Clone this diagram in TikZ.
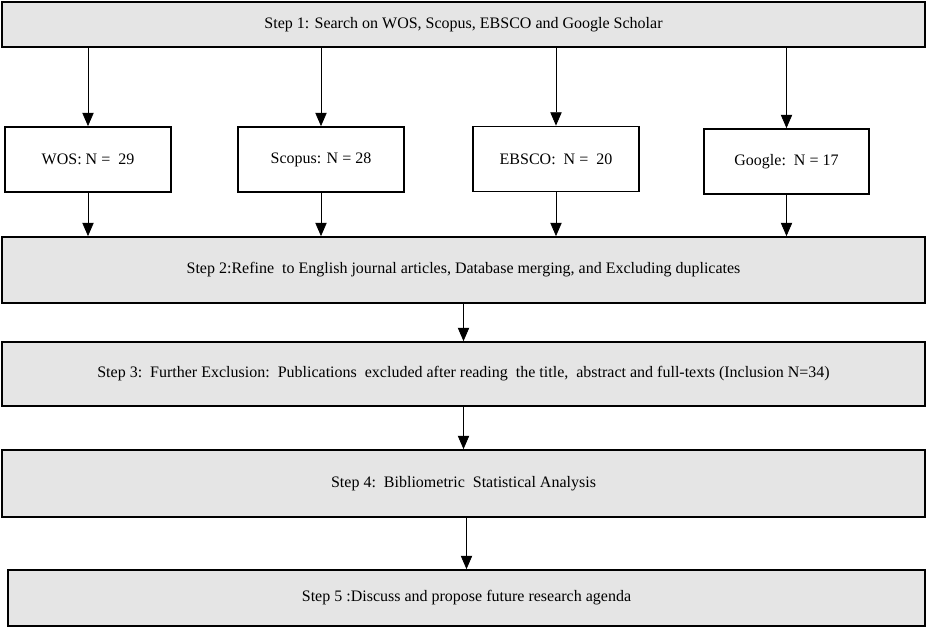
\documentclass[tikz,border=0pt]{standalone}
\usepackage{fontspec}
\setmainfont{Liberation Serif}
\usepackage{tikz}
\usetikzlibrary{arrows.meta, positioning}

\tikzset{
    stepbox/.style={draw, line width=1.3pt, fill=gray!20, minimum width=692pt, inner sep=0pt, font=\fontsize{12}{14}\selectfont},
    dbbox/.style={draw, line width=1.3pt, fill=white, minimum width=124pt, minimum height=48.75pt, inner sep=0pt, font=\fontsize{12}{14}\selectfont},
    flow/.style={-{Triangle[width=8.5pt,length=10pt]}, line width=0.6pt}
}

\begin{document}
\begin{tikzpicture}[x=0.75pt, y=-0.75pt]
                \useasboundingbox (0,0) rectangle (928,630);

                \node[stepbox, minimum height=33.75pt] (step1) at (463.5, 24.5) {Step 1: Search on WOS, Scopus, EBSCO and Google Scholar};

                \node[dbbox] (wos) at (88, 159.5) {WOS: N =\ \ 29};
                \node[dbbox] (scopus) at (321, 159.5) {Scopus: N = 28};
                \node[dbbox] (ebsco) at (556, 159) {EBSCO:\ \ N =\ \ 20};
                \node[dbbox] (google) at (786.5, 161.5) {Google:\ \ N = 17};

                \node[stepbox, minimum height=49.5pt] (step2) at (463.5, 270) {Step 2:Refine\ \ to English journal articles, Database merging, and Excluding duplicates};
                \node[stepbox, minimum height=48pt] (step3) at (463.5, 374) {Step 3:\ \ Further Exclusion:\ \ Publications\ \ excluded after reading\ \ the title,\ \ abstract and full-texts (Inclusion N=34)};
                \node[stepbox, minimum height=50.25pt] (step4) at (463.5, 483.5) {Step 4:\ \ Bibliometric\ \ Statistical Analysis};
                \node[stepbox, minimum width=687.75pt, minimum height=42pt] (step5) at (466.5, 598) {Step 5 :Discuss and propose future research agenda};

                \foreach \db in {wos, scopus, ebsco, google} {
                    \draw[flow] (step1.south -| \db.north) -- (\db.north);
                    \draw[flow] (\db.south) -- (step2.north -| \db.south);
                }

                \draw[flow] (step2) -- (step3);
                \draw[flow] (step3) -- (step4);
                \draw[flow] (step4.south -| step5.north) -- (step5.north);
            \end{tikzpicture}
\end{document}
